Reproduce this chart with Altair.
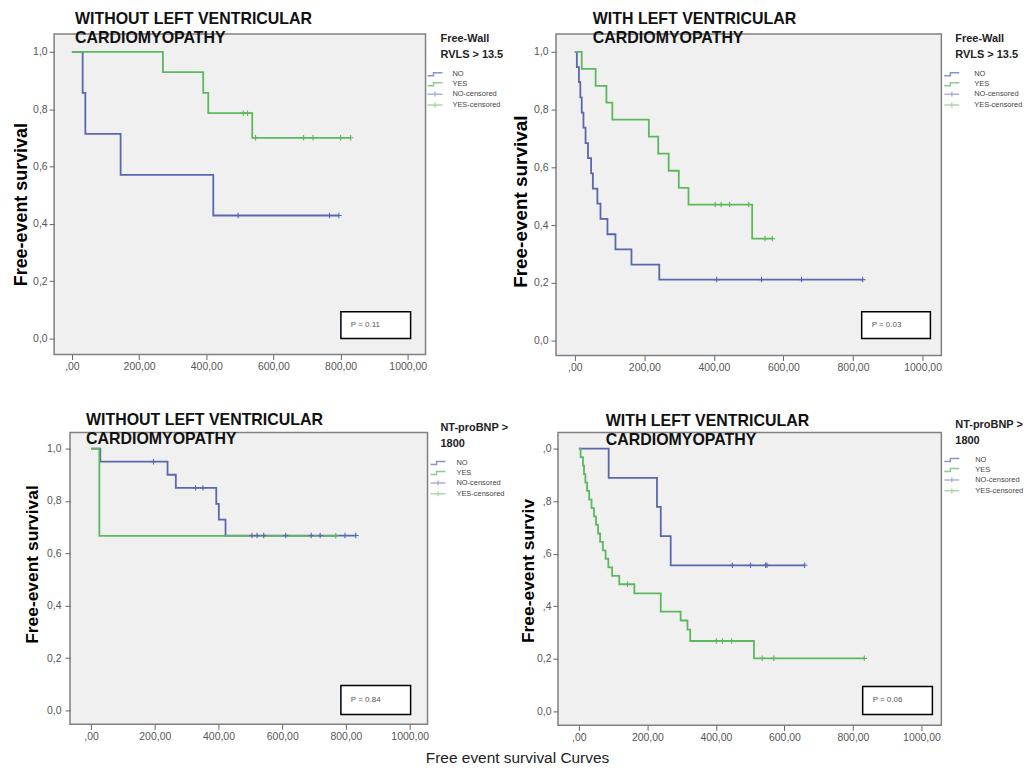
import altair as alt
import pandas as pd

FONT = "Liberation Sans"
KEYS = ["NO", "YES", "NO-censored", "YES-censored"]
COLORS = ["#5a66ad", "#5cb85c", "#8a92c8", "#86c984"]
STEP = "M-1.67,0.33H-0.33V-0.33H1.67"
CROSS = "M-1.67,0H1.67M0,-0.55V0.55"
SHAPES = [STEP, STEP, CROSS, CROSS]
PLUS = "M0,-1V1M-1,0H1"

X_TICKS = [0, 200, 400, 600, 800, 1000]
Y_TICKS = [0, 0.2, 0.4, 0.6, 0.8, 1.0]

# ---------------- data: step times, survival after each step, censored times ----------------
p1_no_t = [0, 32, 40, 145, 421]
p1_no_s = [1.0, 0.857, 0.714, 0.571, 0.429]
p1_no_c = [495, 767, 795]
p1_yes_t = [0, 271, 391, 406, 537]
p1_yes_s = [1.0, 0.929, 0.857, 0.786, 0.700]
p1_yes_c = [510, 523, 547, 690, 718, 800, 830]

p2_no_t = [0, 6, 12, 16, 20, 25, 31, 38, 47, 52, 65, 74, 94, 117, 163, 243]
p2_no_s = [1.0, 0.947, 0.895, 0.842, 0.789, 0.737, 0.684, 0.632, 0.579, 0.526,
           0.474, 0.421, 0.368, 0.316, 0.263, 0.211]
p2_no_c = [408, 537, 652, 828]
p2_yes_t = [0, 20, 60, 91, 108, 213, 240, 270, 299, 327, 510]
p2_yes_s = [1.0, 0.941, 0.882, 0.824, 0.765, 0.706, 0.647, 0.588, 0.529, 0.471, 0.353]
p2_yes_c = [404, 421, 445, 500, 547, 568]

p3_no_t = [0, 29, 240, 266, 393, 401, 422]
p3_no_s = [1.0, 0.95, 0.90, 0.85, 0.789, 0.729, 0.668]
p3_no_c = [196, 328, 351, 505, 521, 542, 611, 691, 719, 797, 831]
p3_yes_t = [0, 26]
p3_yes_s = [1.0, 0.667]
p3_yes_c = [768]

p4_no_t = [0, 87, 228, 239, 268]
p4_no_s = [1.0, 0.889, 0.778, 0.667, 0.556]
p4_no_c = [448, 501, 545, 549, 659]
p4_yes_t = [0, 5, 12, 15, 19, 24, 30, 37, 44, 50, 56, 62, 70, 78, 86, 97, 118,
            162, 239, 297, 317, 325, 511]
p4_yes_s = [1.0, 0.968, 0.935, 0.903, 0.871, 0.839, 0.806, 0.774, 0.742, 0.710,
            0.677, 0.645, 0.613, 0.581, 0.548, 0.516, 0.484, 0.449, 0.380, 0.346,
            0.311, 0.268, 0.202]
p4_yes_c = [142, 401, 419, 446, 535, 569, 833]

titles_without = ["WITHOUT LEFT VENTRICULAR", "CARDIOMYOPATHY"]
titles_with = ["WITH LEFT VENTRICULAR", "CARDIOMYOPATHY"]
legend_rvls = ["Free-Wall", "RVLS > 13.5"]
legend_bnp = ["NT-proBNP >", "1800"]
p_values = ["P = 0.11", "P = 0.03", "P = 0.84", "P = 0.06"]

Y_LABELS_STD = "replace(format(datum.value, '.1f'), '.', ',')"
Y_LABELS_CUT = ("datum.value < 0.3 ? replace(format(datum.value, '.1f'), '.', ',') : "
                "',' + substring(format(datum.value, '.1f'), 2)")
X_LABELS = "datum.value == 0 ? ',00' : format(datum.value, 'd') + ',00'"


def curve_rows(t, s, c, name):
    end = max(max(c) if c else 0, t[-1])
    rows = [{"t": ti, "s": si, "key": name, "i": k} for k, (ti, si) in enumerate(zip(t, s))]
    rows.append({"t": end, "s": s[-1], "key": name, "i": len(t)})
    cens = []
    for ci in c:
        sv = [si for ti, si in zip(t, s) if ti <= ci][-1]
        cens.append({"t": ci, "s": sv, "key": name})
    return rows, cens


def panel(curves, cfg):
    lrows, crows = [], []
    for (t, s, c, name) in curves:
        a, b = curve_rows(t, s, c, name)
        lrows += a
        crows += b
    ldf = pd.DataFrame(lrows)
    cdf = pd.DataFrame(crows)
    legdf = pd.DataFrame({"t": [None] * 4, "s": [None] * 4, "key": KEYS})
    W, H = cfg["W"], cfg["H"]
    xs = alt.Scale(domain=cfg["xdom"], nice=False, zero=False)
    ys = alt.Scale(domain=cfg["ydom"], nice=False, zero=False)
    cs = alt.Scale(domain=KEYS, range=COLORS)
    ss = alt.Scale(domain=KEYS, range=SHAPES)
    xaxis = alt.Axis(values=X_TICKS, labelExpr=X_LABELS, title=None, grid=False,
                     domain=False, tickSize=5, tickColor="#666", tickWidth=1,
                     labelFont=FONT, labelFontSize=10.5, labelColor="#555",
                     labelPadding=2.5, labelFlush=False, labelOverlap=False)
    yaxis = alt.Axis(values=Y_TICKS, labelExpr=cfg["ylab"], title=cfg["ytitle"],
                     grid=False, domain=False, tickSize=5, tickColor="#666", tickWidth=1,
                     labelFont=FONT, labelFontSize=10.5, labelColor="#555",
                     labelPadding=cfg["ypad"], labelFlush=False, labelOverlap=False,
                     titleFont=FONT, titleFontSize=cfg["yfs"], titleFontWeight="bold",
                     titleColor="#000", titleAngle=270, titleAlign="center",
                     titleBaseline="alphabetic", titleX=cfg["tx"], titleY=cfg["ty"])
    leg = alt.Legend(title=cfg["ltitle"], orient="none", legendX=cfg["lx"], legendY=cfg["ly"],
                     direction="vertical", padding=0,
                     titleFont=FONT, titleFontSize=11, titleFontWeight="bold",
                     titleColor="#222", titleLineHeight=16.5, titlePadding=8.5,
                     titleAnchor="start", titleAlign="left",
                     labelFont=FONT, labelFontSize=7.5, labelColor="#444",
                     labelOffset=cfg["loff"], symbolOffset=cfg["soff"],
                     symbolSize=81, symbolStrokeWidth=1.5, rowPadding=0)
    legend_layer = alt.Chart(legdf).mark_point(filled=False, strokeWidth=1.5).encode(
        x=alt.X("t:Q", scale=xs, axis=xaxis),
        y=alt.Y("s:Q", scale=ys, axis=yaxis),
        color=alt.Color("key:N", scale=cs, legend=leg),
        shape=alt.Shape("key:N", scale=ss, legend=leg),
    )
    lines = alt.Chart(ldf).mark_line(interpolate="step-after", strokeWidth=1.8).encode(
        x=alt.X("t:Q", scale=xs, axis=xaxis),
        y=alt.Y("s:Q", scale=ys, axis=yaxis),
        color=alt.Color("key:N", scale=cs, legend=None),
        order="i:Q",
    )
    pts = alt.Chart(cdf).mark_point(filled=False, shape=PLUS, size=30, strokeWidth=1.1,
                                    opacity=1).encode(
        x=alt.X("t:Q", scale=xs, axis=xaxis),
        y=alt.Y("s:Q", scale=ys, axis=yaxis),
        color=alt.Color("key:N", scale=cs, legend=None),
    )
    r1, r2, b1, b2 = cfg["box"]
    pdf = pd.DataFrame({"label": [cfg["p"]]})
    box = alt.Chart(pdf).mark_rect(fill="white", stroke="black", strokeWidth=1.5).encode(
        x=alt.value(W - r2), x2=alt.value(W - r1),
        y=alt.value(H - b2), y2=alt.value(H - b1),
    )
    txt = alt.Chart(pdf).mark_text(align="left", baseline="middle", font=FONT,
                                   fontSize=8, color="#555").encode(
        text="label:N",
        x=alt.value(W - r2 + 10),
        y=alt.value(H - (b1 + b2) / 2),
    )
    return alt.layer(legend_layer, lines, pts, box, txt).properties(
        width=W, height=H,
        title=alt.TitleParams(text=cfg["title"][0], subtitle=cfg["title"][1],
                              anchor="start", frame="group",
                              dx=cfg["dx"], offset=cfg["toff"], font=FONT, fontSize=16,
                              fontWeight="bold", color="#111",
                              subtitleFont=FONT, subtitleFontSize=16,
                              subtitleFontWeight="bold", subtitleColor="#111",
                              subtitlePadding=3),
        view=alt.ViewBackground(fill="#f0f0f0", stroke="#808080", strokeWidth=1.5),
    )


def spacer(w):
    return alt.Chart(pd.DataFrame({"z": [0]})).mark_point(size=1, opacity=0).encode(
        x=alt.value(0.5), y=alt.value(0.5)).properties(
        width=w, height=1,
        view=alt.ViewBackground(fill="transparent", stroke="transparent", strokeWidth=0))


def indep(ch):
    return ch.resolve_scale(color="independent", shape="independent",
                            x="independent", y="independent").resolve_legend(
        color="independent", shape="independent")


P1 = panel([(p1_no_t, p1_no_s, p1_no_c, "NO"), (p1_yes_t, p1_yes_s, p1_yes_c, "YES")],
           dict(W=373, H=322, xdom=[-53, 1053], ydom=[-0.056, 1.0625], title=titles_without,
                dx=21, toff=-13.1, ytitle="Free-event survival", ylab=Y_LABELS_STD, ypad=2,
                yfs=18, tx=-28, ty=171, ltitle=legend_rvls, lx=388, ly=-1, soff=-11, loff=12,
                box=(15, 85, 16, 43), p=p_values[0]))
P2 = panel([(p2_no_t, p2_no_s, p2_no_c, "NO"), (p2_yes_t, p2_yes_s, p2_yes_c, "YES")],
           dict(W=387, H=323, xdom=[-54, 1054], ydom=[-0.052, 1.062], title=titles_with,
                dx=37, toff=-13.1, ytitle="Free-event survival", ylab=Y_LABELS_STD, ypad=3,
                yfs=19, tx=-30, ty=168, ltitle=legend_rvls, lx=401, ly=-1, soff=-9, loff=17,
                box=(11, 80, 17, 44), p=p_values[1]))
P3 = panel([(p3_no_t, p3_no_s, p3_no_c, "NO"), (p3_yes_t, p3_yes_s, p3_yes_c, "YES")],
           dict(W=359, H=293, xdom=[-66, 1056], ydom=[-0.053, 1.061], title=titles_without,
                dx=16, toff=-25.4, ytitle="Free-event survival", ylab=Y_LABELS_STD, ypad=4,
                yfs=17.5, tx=-33, ty=132, ltitle=legend_bnp, lx=372, ly=-11, soff=-8, loff=13,
                box=(17, 87, 10, 39), p=p_values[2]))
P4 = panel([(p4_no_t, p4_no_s, p4_no_c, "NO"), (p4_yes_t, p4_yes_s, p4_yes_c, "YES")],
           dict(W=385, H=294, xdom=[-61, 1058], ydom=[-0.053, 1.061], title=titles_with,
                dx=48, toff=-29.3, ytitle="Free-event surviv", ylab=Y_LABELS_CUT, ypad=2,
                yfs=17.5, tx=-25, ty=138.5, ltitle=legend_bnp, lx=399, ly=-14, soff=-9, loff=18,
                box=(9, 79, 11, 39), p=p_values[3]))

row1 = indep(alt.hconcat(spacer(1), P1, spacer(5), P2, spacing=0))
row2 = indep(alt.hconcat(spacer(11.4), P3, spacer(7.5), P4, spacing=0))

chart = indep(alt.vconcat(row1, row2, spacing=36.4)).properties(
    title=alt.TitleParams("Free event survival Curves", orient="bottom", anchor="middle",
                          font=FONT, fontSize=15.5, fontWeight="normal", color="#222",
                          offset=7.1),
    padding={"left": 2.3, "top": 0.4, "right": 0, "bottom": -3},
).configure_view(stroke="transparent", fill="transparent").configure(font=FONT, background="white")

chart.save("out.html", embed_options={"renderer": "svg", "actions": False})
